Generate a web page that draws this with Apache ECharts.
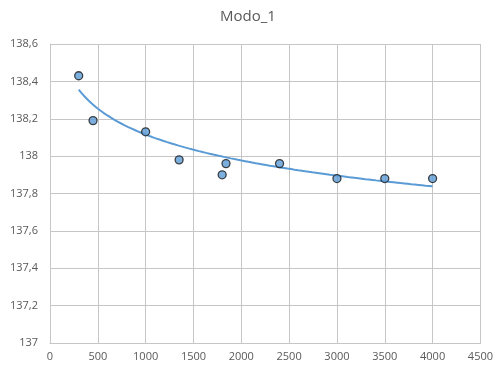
<!DOCTYPE html>
<html><head><meta charset="utf-8">
<script src="https://cdn.jsdelivr.net/npm/echarts@6/dist/echarts.min.js"></script>
<style>html,body{margin:0;padding:0;background:#fff}#c{width:496px;height:373px}</style>
</head><body><div id="c"></div>
<script>
const title = "Modo_1";
const xValues = [300, 450, 1000, 1350, 1800, 1840, 2400, 3000, 3500, 4000];
const yValues = [138.43, 138.19, 138.13, 137.98, 137.90, 137.96, 137.96, 137.88, 137.88, 137.88];
// logarithmic trendline y = trendA + trendB * ln(x)
const trendA = 139.497;
const trendB = -0.2;
const trendRange = [300, 4000];

const pts = xValues.map((x, i) => [x, yValues[i]]);
const trend = [];
for (let k = 0; k <= 100; k++) {
  const x = trendRange[0] + (trendRange[1] - trendRange[0]) * k / 100;
  trend.push([x, trendA + trendB * Math.log(x)]);
}
const font = "'Open Sans', 'Liberation Sans', sans-serif";
const grid = '#c6c6c6';
const chart = echarts.init(document.getElementById('c'));
chart.setOption({
  animation: false,
  title: { text: title, left: 'center', top: 4, textStyle: { fontFamily: font, fontSize: 15, fontWeight: 'normal', color: '#595959' } },
  grid: { left: 50, right: 14, top: 44, bottom: 30 },
  xAxis: { type: 'value', min: 0, max: 4500, interval: 500,
    axisLine: { lineStyle: { color: grid } }, axisTick: { show: false },
    splitLine: { show: true, lineStyle: { color: grid, width: 1 } },
    axisLabel: { color: '#595959', fontFamily: font, fontSize: 11, margin: 8,
      formatter: v => String(v) } },
  yAxis: { type: 'value', min: 137, max: 138.6, interval: 0.2,
    axisLine: { show: true, lineStyle: { color: grid } }, axisTick: { show: false },
    splitLine: { show: true, lineStyle: { color: grid, width: 1 } },
    axisLabel: { color: '#595959', fontFamily: font, fontSize: 11, margin: 12,
      formatter: v => String(Math.round(v * 10) / 10).replace('.', ',') } },
  series: [
    { type: 'line', data: trend, showSymbol: false, smooth: false, z: 2,
      lineStyle: { color: '#5B9BD5', width: 2 } },
    { type: 'scatter', data: pts, symbol: 'circle', symbolSize: 8, z: 3,
      itemStyle: { color: '#5B9BD5', borderColor: '#1a1a1a', borderWidth: 1.3 } }
  ]
});
</script></body></html>
